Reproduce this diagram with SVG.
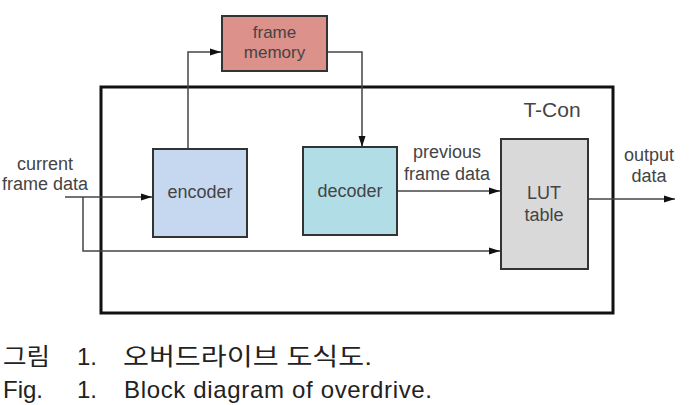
<svg xmlns="http://www.w3.org/2000/svg" width="689" height="405" viewBox="0 0 689 405">
<defs>
<marker id="ah" markerUnits="userSpaceOnUse" markerWidth="12" markerHeight="8" refX="11" refY="4" orient="auto">
<path d="M0,0.5 L11,4 L0,7.5 z" fill="#111"/>
</marker>
<style>
.lbl{font-family:"Liberation Sans",Arial,sans-serif;font-size:18px;fill:#444;text-anchor:middle}
.box{stroke:#333;stroke-width:2}
.conn{fill:none;stroke:#444;stroke-width:1.5}
.cap{font-family:"Liberation Sans","Noto Sans CJK KR",sans-serif;font-size:24px;fill:#222}
</style>
</defs>
<rect width="689" height="405" fill="#fff"/>
<g id="tcon">
<rect x="101" y="87" width="512" height="226" fill="none" stroke="#111" stroke-width="3"/>
<text class="lbl" x="552" y="117" style="font-size:21px">T-Con</text>
</g>
<g id="connectors">
<path class="conn" d="M188,149 V52 H221" marker-end="url(#ah)"/>
<path class="conn" d="M327,52 H362 V147" marker-end="url(#ah)"/>
<path class="conn" d="M65,197 H152" marker-end="url(#ah)"/>
<path class="conn" d="M83,197 V251 H500" marker-end="url(#ah)"/>
<path class="conn" d="M397,191 H500" marker-end="url(#ah)"/>
<path class="conn" d="M588,199 H675" marker-end="url(#ah)"/>
</g>
<g id="frame-memory">
<rect class="box" x="222" y="16" width="105" height="55" fill="#dc918a"/>
<text class="lbl" x="274.5" y="38" style="font-size:17px">frame</text>
<text class="lbl" x="274.5" y="58" style="font-size:17px">memory</text>
</g>
<g id="encoder">
<rect class="box" x="153" y="149" width="94" height="88" fill="#c6d8f0"/>
<text class="lbl" x="200" y="198">encoder</text>
</g>
<g id="decoder">
<rect class="box" x="303" y="147" width="94" height="88" fill="#b1dde6"/>
<text class="lbl" x="350" y="197">decoder</text>
</g>
<g id="lut">
<rect class="box" x="501" y="139" width="87" height="130" fill="#d9d9d9"/>
<text class="lbl" x="544" y="199">LUT</text>
<text class="lbl" x="544" y="221">table</text>
</g>
<g id="labels">
<text class="lbl" x="45" y="170">current</text>
<text class="lbl" x="45" y="190">frame data</text>
<text class="lbl" x="447" y="158">previous</text>
<text class="lbl" x="447" y="180">frame data</text>
<text class="lbl" x="649" y="161">output</text>
<text class="lbl" x="649" y="182">data</text>
</g>
<g id="caption">
<text class="cap" x="3" y="365" textLength="47" lengthAdjust="spacingAndGlyphs">그림</text>
<text class="cap" x="77" y="365">1.</text>
<text class="cap" x="123" y="365" textLength="249" lengthAdjust="spacingAndGlyphs">오버드라이브 도식도.</text>
<text class="cap" x="3" y="398">Fig.</text>
<text class="cap" x="77" y="398">1.</text>
<text class="cap" x="124" y="398" textLength="308" lengthAdjust="spacing">Block diagram of overdrive.</text>
</g>
</svg>
